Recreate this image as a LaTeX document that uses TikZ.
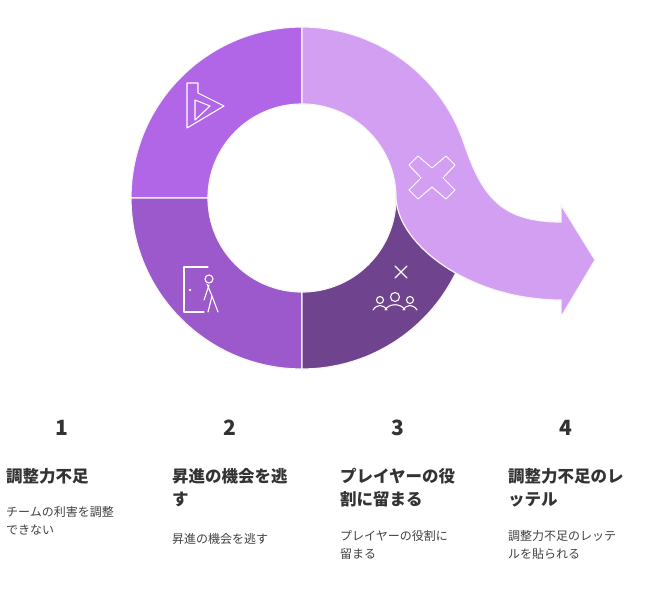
\documentclass[tikz,border=0pt]{standalone}
\usepackage{fontspec}
\setmainfont{Noto Sans CJK JP}
\begin{document}
\begin{tikzpicture}[x=1pt,y=-1pt,
  seg/.style={draw=white!94!gray,line width=1.2pt},
  ico/.style={draw=white,line width=1.1pt,line join=round,line cap=round},
  num/.style={font=\bfseries\fontsize{21}{24}\selectfont,text=black!80},
  ttl/.style={anchor=north west,align=left,inner sep=0pt,font=\bfseries\fontsize{16.5}{23}\selectfont,text=black!80},
  dsc/.style={anchor=north west,align=left,inner sep=0pt,font=\fontsize{12}{18}\selectfont,text=black!75}]
\useasboundingbox (0,0) rectangle (661,594);
% quadrants
\fill[seg,fill={rgb,255:red,176;green,102;blue,230}] (302,27) arc[start angle=-90,end angle=-180,radius=171] -- (208,198) arc[start angle=180,end angle=270,radius=94] -- cycle;
\fill[seg,fill={rgb,255:red,155;green,89;blue,203}] (131,198) arc[start angle=180,end angle=90,radius=171] -- (302,292) arc[start angle=90,end angle=180,radius=94] -- cycle;
\fill[seg,fill={rgb,255:red,112;green,67;blue,143}] (302,369) arc[start angle=90,end angle=0,radius=171] -- (396,198) arc[start angle=0,end angle=90,radius=94] -- cycle;
% arrow
\fill[seg,fill={rgb,255:red,211;green,159;blue,243}] (302,27) arc[start angle=-90,end angle=-18,radius=171]
  .. controls (482,195) and (500,222) .. (561,222) -- (561,205) -- (595,260) -- (561,317) -- (561,300)
  .. controls (470,300) and (398,245) .. (396,198) arc[start angle=0,end angle=-90,radius=94] -- cycle;
% icons
\draw[ico] (187,83) -- (198,83) -- (198,93) -- (224,106) -- (187,128) -- cycle (195,100) -- (195,120) -- (210,106) -- cycle;
\draw[ico] (204,312) -- (184,312) -- (184,267) -- (208,267);
\fill[white] (190,290) circle (1.3);
\draw[ico] (209,279) circle (4);
\draw[ico] (207,284) -- (212,296) -- (208,312) (212,296) -- (218,312) (209,285) -- (204,300);
\draw[ico] (395,266) -- (407,278) (407,266) -- (395,278);
\draw[ico] (380,300) circle (3.5) (395,297) circle (4.5) (410,300) circle (3.5);
\draw[ico] (373,310) .. controls (377,304) and (383,304) .. (387,310) (385,310) .. controls (389,303) and (401,303) .. (405,310) (403,310) .. controls (407,304) and (413,304) .. (417,310);
\draw[ico,line width=0.9pt] (418,156) -- (432,168) -- (446,156) -- (455,165) -- (443,178) -- (455,190) -- (446,199) -- (432,187) -- (418,199) -- (409,190) -- (421,178) -- (409,165) -- cycle;
% texts
\node[num] (n1) at (62,428) {1};
\node[num] (n2) at (230,428) {2};
\node[num] (n3) at (398,428) {3};
\node[num] (n4) at (566,428) {4};
\node[ttl] (t1) at (6,468) {調整力不足};
\node[ttl] (t2) at (172,468) {昇進の機会を逃\\す};
\node[ttl] (t3) at (340,468) {プレイヤーの役\\割に留まる};
\node[ttl] (t4) at (508,468) {調整力不足のレ\\ッテル};
\node[dsc] (d1) at (6,506) {チームの利害を調整\\できない};
\node[dsc] (d2) at (172,533) {昇進の機会を逃す};
\node[dsc] (d3) at (340,530) {プレイヤーの役割に\\留まる};
\node[dsc] (d4) at (508,530) {調整力不足のレッテ\\ルを貼られる};
\end{tikzpicture}
\end{document}
